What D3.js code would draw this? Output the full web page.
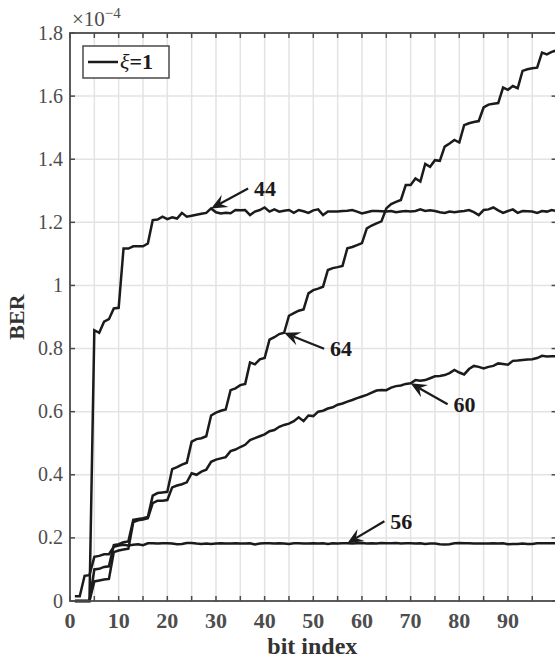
<!DOCTYPE html>
<html>
<head>
<meta charset="utf-8">
<script src="https://cdn.jsdelivr.net/npm/d3@7"></script>
<style>
  body { margin: 0; background: #fff; }
  svg { display: block; font-family: "Liberation Serif", "DejaVu Serif", serif; }
</style>
</head>
<body>
<div id="chart"></div>
<script>
// ---- data (BER in units of 1e-4) ----
const bitIndex = d3.range(1, 101);

const ber44 = [0, 0, 0, 0, 0.858, 0.850, 0.885, 0.893, 0.927, 0.929,
  1.117, 1.117, 1.124, 1.124, 1.124, 1.133, 1.207, 1.209, 1.218, 1.210,
  1.216, 1.212, 1.230, 1.218, 1.221, 1.224, 1.227, 1.230, 1.244, 1.232,
  1.228, 1.230, 1.229, 1.239, 1.238, 1.239, 1.223, 1.234, 1.239, 1.247,
  1.234, 1.241, 1.234, 1.237, 1.239, 1.230, 1.239, 1.235, 1.230, 1.238,
  1.241, 1.223, 1.234, 1.234, 1.234, 1.236, 1.237, 1.239, 1.234, 1.228,
  1.232, 1.236, 1.236, 1.235, 1.234, 1.236, 1.232, 1.234, 1.236, 1.234,
  1.236, 1.241, 1.236, 1.238, 1.236, 1.232, 1.230, 1.234, 1.232, 1.234,
  1.236, 1.239, 1.232, 1.223, 1.239, 1.241, 1.247, 1.238, 1.230, 1.236,
  1.241, 1.230, 1.236, 1.235, 1.234, 1.230, 1.236, 1.234, 1.239, 1.236];

const ber56 = [0.015, 0.015, 0.080, 0.082, 0.140, 0.143, 0.148, 0.148, 0.172, 0.176,
  0.178, 0.176, 0.178, 0.180, 0.177, 0.183, 0.183, 0.182, 0.183, 0.183,
  0.182, 0.180, 0.181, 0.184, 0.184, 0.182, 0.181, 0.182, 0.181, 0.182,
  0.183, 0.182, 0.182, 0.183, 0.182, 0.182, 0.183, 0.179, 0.182, 0.183,
  0.183, 0.182, 0.183, 0.182, 0.181, 0.183, 0.183, 0.182, 0.182, 0.183,
  0.182, 0.183, 0.181, 0.183, 0.182, 0.183, 0.183, 0.182, 0.183, 0.184,
  0.182, 0.183, 0.182, 0.184, 0.183, 0.183, 0.184, 0.182, 0.183, 0.183,
  0.182, 0.183, 0.181, 0.182, 0.182, 0.180, 0.179, 0.180, 0.183, 0.184,
  0.183, 0.183, 0.182, 0.182, 0.182, 0.182, 0.183, 0.182, 0.183, 0.180,
  0.181, 0.181, 0.182, 0.181, 0.181, 0.183, 0.183, 0.183, 0.183, 0.183];

const ber60 = [0, 0, 0, 0, 0.062, 0.065, 0.068, 0.070, 0.155, 0.160,
  0.163, 0.166, 0.250, 0.256, 0.258, 0.262, 0.310, 0.318, 0.318, 0.320,
  0.360, 0.366, 0.370, 0.376, 0.405, 0.400, 0.410, 0.416, 0.441, 0.448,
  0.452, 0.456, 0.475, 0.480, 0.488, 0.495, 0.510, 0.516, 0.522, 0.528,
  0.538, 0.542, 0.552, 0.558, 0.562, 0.570, 0.582, 0.570, 0.588, 0.586,
  0.600, 0.603, 0.610, 0.614, 0.622, 0.626, 0.632, 0.637, 0.643, 0.648,
  0.653, 0.660, 0.667, 0.669, 0.668, 0.676, 0.681, 0.683, 0.688, 0.690,
  0.700, 0.698, 0.700, 0.706, 0.712, 0.713, 0.716, 0.722, 0.732, 0.724,
  0.718, 0.735, 0.745, 0.742, 0.737, 0.742, 0.745, 0.753, 0.751, 0.749,
  0.761, 0.762, 0.764, 0.765, 0.766, 0.770, 0.777, 0.775, 0.776, 0.775];

const ber64 = [0, 0, 0, 0, 0.100, 0.102, 0.108, 0.110, 0.177, 0.180,
  0.186, 0.189, 0.257, 0.260, 0.262, 0.266, 0.334, 0.342, 0.344, 0.346,
  0.418, 0.424, 0.432, 0.438, 0.505, 0.513, 0.516, 0.522, 0.588, 0.597,
  0.603, 0.607, 0.668, 0.674, 0.684, 0.688, 0.756, 0.750, 0.766, 0.770,
  0.828, 0.836, 0.846, 0.850, 0.904, 0.912, 0.920, 0.924, 0.975, 0.985,
  0.990, 0.996, 1.049, 1.055, 1.058, 1.062, 1.118, 1.122, 1.128, 1.134,
  1.181, 1.190, 1.197, 1.203, 1.244, 1.258, 1.265, 1.271, 1.318, 1.318,
  1.339, 1.329, 1.385, 1.376, 1.397, 1.395, 1.440, 1.450, 1.461, 1.453,
  1.508, 1.514, 1.518, 1.521, 1.564, 1.573, 1.576, 1.578, 1.627, 1.620,
  1.632, 1.625, 1.680, 1.685, 1.688, 1.690, 1.738, 1.732, 1.740, 1.745];

const seriesList = [ber44, ber56, ber60, ber64];

// arrow annotations: label and the bit index it points at
const annLabels = ["44", "64", "60", "56"];
const annIndex = [29, 44, 70, 57];
const annSeries = [ber44, ber64, ber60, ber56];
const annOffset = [[37, -20], [40, 16], [37, 21], [37, -22]];

const xTicks = d3.range(0, 101, 5);
const yTicks = [0, 0.2, 0.4, 0.6, 0.8, 1, 1.2, 1.4, 1.6, 1.8];

// ---- layout ----
const W = 555, H = 660;
const margin = { left: 70, top: 33 };
const width = 486.6, height = 568;

const svg = d3.select("#chart").append("svg")
  .attr("width", W).attr("height", H);

svg.append("rect").attr("width", W).attr("height", H).attr("fill", "#fff");

const g = svg.append("g")
  .attr("transform", `translate(${margin.left}, ${margin.top})`);

const x = d3.scaleLinear().domain([0, 100]).range([0, width]);
const y = d3.scaleLinear().domain([0, 1.8]).range([height, 0]);

// grid
g.append("g").selectAll("line").data(xTicks.filter(d => d > 0 && d < 100)).join("line")
  .attr("x1", d => x(d)).attr("x2", d => x(d))
  .attr("y1", 0).attr("y2", height)
  .attr("stroke", "#e3e3e3").attr("stroke-width", 1.5);
g.append("g").selectAll("line").data(yTicks.filter(d => d > 0 && d < 1.8)).join("line")
  .attr("x1", 0).attr("x2", width)
  .attr("y1", d => y(d)).attr("y2", d => y(d))
  .attr("stroke", "#e3e3e3").attr("stroke-width", 1.5);

// curves
const line = d3.line()
  .x((d, i) => x(bitIndex[i]))
  .y(d => y(d));

g.append("g").selectAll("path").data(seriesList).join("path")
  .attr("d", line)
  .attr("fill", "none")
  .attr("stroke", "#1c1a1b")
  .attr("stroke-width", 2.5)
  .attr("stroke-linejoin", "miter");

// axes box with inward ticks
const axisColor = "#4a4a4a";
const tickLen = 5;
const axG = g.append("g");
axG.selectAll(".tb").data(xTicks).join("line")
  .attr("x1", d => x(d)).attr("x2", d => x(d))
  .attr("y1", height).attr("y2", height - tickLen)
  .attr("stroke", axisColor).attr("stroke-width", 1.5);
axG.selectAll(".tt").data(xTicks).join("line")
  .attr("x1", d => x(d)).attr("x2", d => x(d))
  .attr("y1", 0).attr("y2", tickLen)
  .attr("stroke", axisColor).attr("stroke-width", 1.5);
axG.selectAll(".yl").data(yTicks).join("line")
  .attr("x1", 0).attr("x2", tickLen)
  .attr("y1", d => y(d)).attr("y2", d => y(d))
  .attr("stroke", axisColor).attr("stroke-width", 1.5);
axG.selectAll(".yr").data(yTicks).join("line")
  .attr("x1", width).attr("x2", width - tickLen)
  .attr("y1", d => y(d)).attr("y2", d => y(d))
  .attr("stroke", axisColor).attr("stroke-width", 1.5);
axG.append("rect")
  .attr("x", 0).attr("y", 0).attr("width", width).attr("height", height)
  .attr("fill", "none").attr("stroke", axisColor).attr("stroke-width", 1.8);

// tick labels
const labelColor = "#4d4d4d";
g.append("g").selectAll("text").data(xTicks.filter(d => d % 10 === 0 && d < 100)).join("text")
  .attr("x", d => x(d)).attr("y", height + 27)
  .attr("text-anchor", "middle")
  .attr("fill", labelColor)
  .attr("font-size", 22).attr("font-weight", "bold")
  .text(d => d);
g.append("g").selectAll("text").data(yTicks).join("text")
  .attr("x", -7).attr("y", d => y(d) + 6.5)
  .attr("text-anchor", "end")
  .attr("fill", labelColor)
  .attr("font-size", 20)
  .text(d => d === 0 ? "0" : d === 1 ? "1" : d.toFixed(1));

// exponent
const expo = g.append("text").attr("x", 2).attr("y", -7)
  .attr("fill", labelColor).attr("font-size", 21);
expo.append("tspan").text("\u00d710");
expo.append("tspan").attr("dy", -8).attr("font-size", 15).text("\u22124");

// axis titles
svg.append("text")
  .attr("x", margin.left + width / 2 - 1).attr("y", 654)
  .attr("text-anchor", "middle").attr("font-size", 24).attr("font-weight", "bold")
  .attr("fill", "#333")
  .text("bit index");
svg.append("text")
  .attr("transform", `translate(24, ${margin.top + height / 2}) rotate(-90)`)
  .attr("text-anchor", "middle").attr("font-size", 22).attr("font-weight", "bold")
  .attr("fill", "#333")
  .text("BER");

// annotations with arrows
const annG = g.append("g");
annLabels.forEach((lab, k) => {
  const i = annIndex[k];
  const tx = x(i), ty = y(annSeries[k][i - 1]);
  const sx = tx + annOffset[k][0], sy = ty + annOffset[k][1];
  const ang = Math.atan2(ty - sy, tx - sx);
  const L = 16, Wd = 7, back = 10;
  const ca = Math.cos(ang), sa = Math.sin(ang);
  const bx = tx - L * ca, by = ty - L * sa;
  const nx = tx - back * ca, ny = ty - back * sa;
  annG.append("line")
    .attr("x1", sx).attr("y1", sy).attr("x2", nx).attr("y2", ny)
    .attr("stroke", "#1c1a1b").attr("stroke-width", 2.2);
  annG.append("path")
    .attr("d", `M${tx},${ty} L${bx - Wd * sa},${by + Wd * ca} L${nx},${ny} L${bx + Wd * sa},${by - Wd * ca} Z`)
    .attr("fill", "#1c1a1b");
  annG.append("text")
    .attr("x", sx + 6).attr("y", sy + 7.5)
    .attr("font-size", 22).attr("font-weight", "bold")
    .attr("fill", "#1c1a1b")
    .text(lab);
});

// legend
const leg = g.append("g").attr("transform", "translate(13, 13)");
leg.append("rect").attr("width", 86).attr("height", 32)
  .attr("fill", "#fff").attr("stroke", axisColor).attr("stroke-width", 1.5);
leg.append("line").attr("x1", 5).attr("x2", 35).attr("y1", 16).attr("y2", 16)
  .attr("stroke", "#1c1a1b").attr("stroke-width", 2.5);
const lt = leg.append("text").attr("x", 37).attr("y", 23)
  .attr("font-size", 22).attr("fill", "#1c1a1b");
lt.append("tspan").attr("font-style", "italic").text("\u03be");
lt.append("tspan").attr("font-weight", "bold").text("=1");
</script>
</body>
</html>
